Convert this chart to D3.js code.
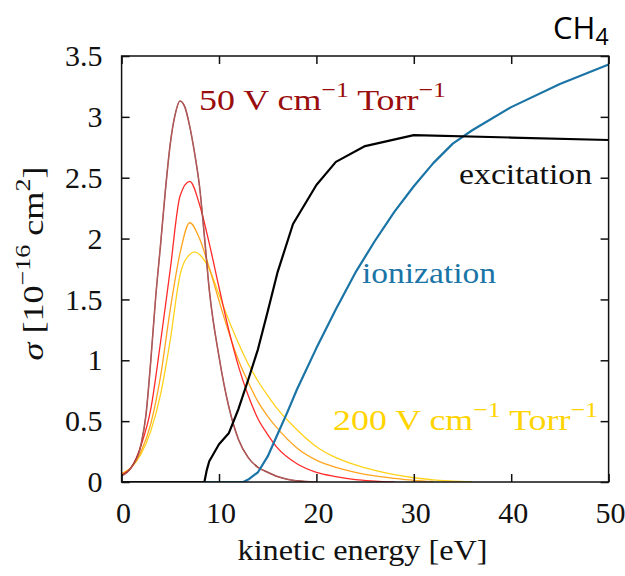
<!DOCTYPE html>
<html><head><meta charset="utf-8">
<script src="https://cdn.jsdelivr.net/npm/d3@7"></script>
<style>html,body{margin:0;padding:0;background:#fff;} svg{display:block}</style>
</head><body><svg id="chart" width="625" height="576"></svg>
<script>
// Axis ticks
const xTicks = [0, 10, 20, 30, 40, 50];
const yTicks = [0, 0.5, 1, 1.5, 2, 2.5, 3, 3.5];
const yTickLabels = ["0", "0.5", "1", "1.5", "2", "2.5", "3", "3.5"];

// Electron energy distributions (arbitrary scale) for four reduced fields
const dist50X  = [0, 1, 2, 2.5, 3, 3.5, 4, 4.5, 5, 5.5, 6, 6.5, 7, 7.5, 8, 8.5, 9, 10, 11, 12, 13, 14, 15, 16, 17, 18, 20];
const dist50Y  = [0.05, 0.12, 0.31, 0.55, 1.0, 1.52, 1.95, 2.4, 2.78, 3.02, 3.13, 3.08, 2.92, 2.7, 2.43, 2.02, 1.58, 1.03, 0.62, 0.35, 0.2, 0.12, 0.08, 0.045, 0.022, 0.01, 0.0];
const dist100X = [0, 1, 2, 3, 4, 5, 6, 7, 8, 9, 10, 11, 12, 13, 14, 15, 16, 18, 20, 22, 24, 26, 28];
const dist100Y = [0.06, 0.12, 0.3, 0.6, 1.15, 1.75, 2.35, 2.47, 2.28, 1.96, 1.6, 1.25, 0.95, 0.71, 0.52, 0.39, 0.28, 0.15, 0.08, 0.045, 0.02, 0.008, 0.0];
const dist150X = [0, 1, 2, 3, 4, 5, 6, 7, 8, 9, 10, 11, 12, 13, 14, 15, 16, 18, 20, 22, 24, 26, 28, 30, 32];
const dist150Y = [0.07, 0.12, 0.25, 0.48, 0.87, 1.42, 1.88, 2.13, 2.0, 1.76, 1.49, 1.23, 1.0, 0.82, 0.66, 0.54, 0.44, 0.28, 0.18, 0.12, 0.08, 0.05, 0.03, 0.014, 0.004];
const dist200X = [0, 1, 2, 3, 4, 5, 6, 7, 7.5, 8, 9, 10, 11, 12, 13, 14, 15, 16, 18, 20, 22, 24, 26, 28, 30, 32, 34, 36];
const dist200Y = [0.07, 0.12, 0.23, 0.42, 0.72, 1.17, 1.7, 1.87, 1.89, 1.87, 1.75, 1.54, 1.33, 1.14, 0.97, 0.83, 0.71, 0.6, 0.43, 0.29, 0.2, 0.14, 0.095, 0.06, 0.035, 0.018, 0.008, 0.0];

// Electron-impact cross sections for CH4
const excitationX = [0, 8.5, 8.75, 9, 10, 11, 12, 13, 14, 15, 16, 17.6, 20, 22, 25, 30, 40, 50];
const excitationY = [0, 0, 0.1, 0.17, 0.31, 0.4, 0.6, 0.84, 1.09, 1.4, 1.72, 2.12, 2.44, 2.63, 2.76, 2.85, 2.83, 2.81];
const ionizationX = [0, 12.5, 13, 14, 15, 16, 17, 18, 20, 22, 24, 26, 28, 30, 32, 34, 36, 40, 45, 50];
const ionizationY = [0, 0, 0.02, 0.08, 0.21, 0.39, 0.57, 0.76, 1.1, 1.42, 1.72, 1.98, 2.22, 2.43, 2.62, 2.78, 2.89, 3.08, 3.27, 3.43];

const svg = d3.select("#chart");
const x = d3.scaleLinear().domain([0, 50]).range([121.6, 608.6]);
const y = d3.scaleLinear().domain([0, 3.5]).range([482, 56]);

const serif = "'Liberation Serif', 'DejaVu Serif', serif";
const FS = 30;

const clipId = "plotclip";
svg.append("defs").append("clipPath").attr("id", clipId)
  .append("rect").attr("x", x(0)).attr("y", y(3.5)).attr("width", x(50) - x(0)).attr("height", y(0) - y(3.5));

const lineOf = (xs, ys, curve) => d3.line()
  .x((d, i) => x(xs[i])).y((d, i) => y(ys[i])).curve(curve)(ys);

const curves = svg.append("g").attr("clip-path", `url(#${clipId})`);

// distributions, widest first so the sharpest sits on top
curves.append("path").attr("d", lineOf(dist200X, dist200Y, d3.curveMonotoneX))
  .attr("fill", "none").attr("stroke", "#ffd21a").attr("stroke-width", 1.3);
curves.append("path").attr("d", lineOf(dist150X, dist150Y, d3.curveMonotoneX))
  .attr("fill", "none").attr("stroke", "#ffa51f").attr("stroke-width", 1.3);
curves.append("path").attr("d", lineOf(dist100X, dist100Y, d3.curveMonotoneX))
  .attr("fill", "none").attr("stroke", "#ff2a2a").attr("stroke-width", 1.3);
curves.append("path").attr("d", lineOf(dist50X, dist50Y, d3.curveMonotoneX))
  .attr("fill", "none").attr("stroke", "#8e2424").attr("stroke-width", 1.5);
curves.append("path").attr("d", lineOf(dist50X, dist50Y, d3.curveMonotoneX))
  .attr("fill", "none").attr("stroke", "#e6b0b0").attr("stroke-width", 0.45);

// cross sections
curves.append("path").attr("d", lineOf(ionizationX, ionizationY, d3.curveLinear))
  .attr("fill", "none").attr("stroke", "#1a74a6").attr("stroke-width", 2.2)
  .attr("stroke-linejoin", "round");
curves.append("path").attr("d", lineOf(excitationX, excitationY, d3.curveLinear))
  .attr("fill", "none").attr("stroke", "#000").attr("stroke-width", 2.2)
  .attr("stroke-linejoin", "round");

// frame and inward ticks on all four sides
const axes = svg.append("g");
axes.append("rect").attr("x", x(0)).attr("y", y(3.5))
  .attr("width", x(50) - x(0)).attr("height", y(0) - y(3.5))
  .attr("fill", "none").attr("stroke", "#111").attr("stroke-width", 1.5);

const tickLen = 8;
const axB = d3.axisBottom(x).tickValues(xTicks).tickSizeInner(-tickLen).tickSizeOuter(0).tickPadding(20);
const axT = d3.axisTop(x).tickValues(xTicks).tickSizeInner(-tickLen).tickSizeOuter(0).tickFormat("");
const axL = d3.axisLeft(y).tickValues(yTicks).tickSizeInner(-tickLen).tickSizeOuter(0).tickPadding(19)
  .tickFormat((d, i) => yTickLabels[i]);
const axR = d3.axisRight(y).tickValues(yTicks).tickSizeInner(-tickLen).tickSizeOuter(0).tickFormat("");

function styleAxis(g) {
  g.select(".domain").remove();
  g.selectAll(".tick line").attr("stroke", "#111").attr("stroke-width", 1.5);
  g.selectAll(".tick text").attr("fill", "#111").style("font-family", serif).style("font-size", FS + "px");
}
axes.append("g").attr("transform", `translate(0,${y(0)})`).call(axB).call(styleAxis)
  .selectAll(".tick text").attr("dy", "0.71em").attr("x", 1.5);
axes.append("g").attr("transform", `translate(0,${y(3.5)})`).call(axT).call(styleAxis);
axes.append("g").attr("transform", `translate(${x(0)},0)`).call(axL).call(styleAxis);
axes.append("g").attr("transform", `translate(${x(50)},0)`).call(axR).call(styleAxis);

// text with superscripts: parts = [[text, isSup, isItalic], ...]
// the run is stretched horizontally to the given width, about its anchor
function richText(g, parts, size, opts = {}) {
  const t = g.append("text").style("font-family", serif).style("font-size", size + "px")
    .attr("fill", opts.fill || "#111");
  if (opts.anchor) t.attr("text-anchor", opts.anchor);
  let raised = false;
  parts.forEach(([s, sup, italic]) => {
    const ts = t.append("tspan").text(s);
    if (italic) ts.style("font-style", "italic");
    if (sup && !raised) { ts.attr("dy", -size * 0.42).style("font-size", (size * 0.72) + "px"); raised = true; }
    else if (sup) { ts.style("font-size", (size * 0.72) + "px"); }
    else if (!sup && raised) { ts.attr("dy", size * 0.42); raised = false; }
  });
  if (opts.width) {
    const w = t.node().getBBox().width;
    t.attr("transform", `scale(${opts.width / w},1)`);
  }
  return t;
}

// curve labels
richText(svg.append("g").attr("transform", "translate(199,110)"),
  [["50 V cm", false], ["−1", true], [" Torr", false], ["−1", true]], FS, { fill: "#990d0d", width: 247 });
richText(svg.append("g").attr("transform", "translate(333,430)"),
  [["200 V cm", false], ["−1", true], [" Torr", false], ["−1", true]], FS, { fill: "#ffd400", width: 265 });
richText(svg.append("g").attr("transform", "translate(592,184)"),
  [["excitation", false]], FS, { fill: "#111", anchor: "end", width: 133 });
richText(svg.append("g").attr("transform", "translate(362,283)"),
  [["ionization", false]], FS, { fill: "#1a74a6", width: 134 });

// axis titles
richText(svg.append("g").attr("transform", "translate(362.5,560)"),
  [["kinetic energy [eV]", false]], FS, { anchor: "middle", width: 250 });
richText(svg.append("g").attr("transform", "translate(43,263.5) rotate(-90)"),
  [["σ", false, true], [" [10", false], ["−16", true], [" cm", false], ["2", true], ["]", false]], FS, { anchor: "middle", width: 194 });

// species tag
const tag = svg.append("text").attr("x", 553).attr("y", 39)
  .style("font-family", "'Open Sans', 'Noto Sans', sans-serif").style("font-size", "31px").attr("fill", "#000");
tag.append("tspan").text("CH");
tag.append("tspan").text("4").attr("dy", 6).style("font-size", "23px");
</script></body></html>
